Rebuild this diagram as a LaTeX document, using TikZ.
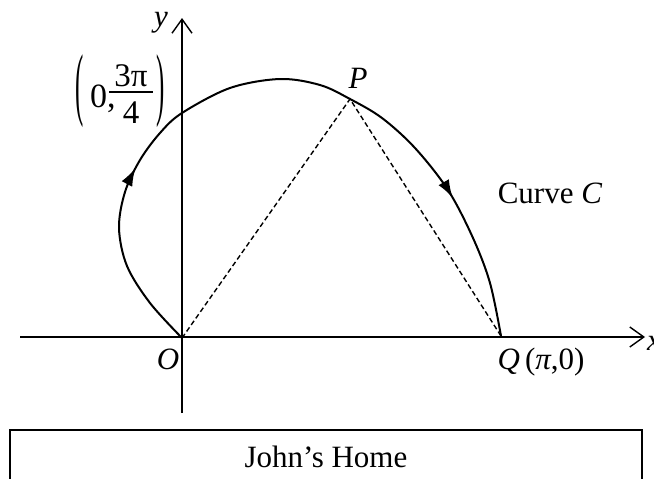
\documentclass[tikz,border=0pt]{standalone}
\usepackage{graphicx}
\usepackage{fontspec}
\setmainfont{Liberation Serif}
\usetikzlibrary{arrows.meta,decorations.markings}
\begin{document}
\begin{tikzpicture}[x=1pt,y=-1pt,
  lbl/.style={font=\fontsize{31}{36}\selectfont, inner sep=0pt},
  fraclbl/.style={font=\fontsize{33}{38}\selectfont, inner sep=0pt},
  biglbl/.style={font=\fontsize{34}{40}\selectfont, inner sep=0pt},
  axis/.style={line width=1.4pt,-{Straight Barb[length=14pt,width=20pt,line width=1.4pt]}},
  curvestyle/.style={line width=2pt},
  chord/.style={line width=1.4pt,dash pattern=on 5pt off 3pt},
  fracbar/.style={line width=1.4pt},
  homebox/.style={draw,line width=2pt,minimum width=632pt,minimum height=54pt,inner sep=0pt,font=\fontsize{31}{36}\selectfont},
  arrowmarks/.style={postaction=decorate,decoration={markings,
     mark=at position 0.262 with {\arrow{Latex[length=18pt,width=12pt]}},
     mark=at position 0.8 with {\arrow{Latex[length=18pt,width=12pt]}}}}
]
\useasboundingbox (0,0) rectangle (654,479);
% axes
\coordinate (xs) at (20,337);
\coordinate (xe) at (645,337);
\coordinate (ys) at (182,413);
\coordinate (ye) at (182,18);
\draw[axis] (xs) -- (xe);
\draw[axis] (ys) -- (ye);
% key points
\coordinate (O) at (182,338);
\coordinate (P) at (350,99);
\coordinate (Q) at (501,336);
% curve C
\draw[curvestyle,arrowmarks] plot[smooth,tension=0.55] coordinates {
 (O) (150,303) (127,266) (119,228) (125,192) (140,160) (160,133)
 (182,113) (230,88) (280,79) (320,85) (350,99) (382,118) (415,148)
 (448,190) (473,238) (490,283) (Q)};
% chords
\draw[chord] (O) -- (P) -- (Q);
% labels
\node[lbl] (ylab) at (161,23) {\itshape y};
\node[lbl] (xlab) at (654,343) {\itshape x};
% (0, 3pi/4)
\node[lbl] (lp) at (80,91) {\scalebox{0.8}[2.6]{(}};
\node[biglbl,anchor=base west] (zero) at (90,107) {0,};
\node[fraclbl,anchor=base] (num) at (131,86) {3π};
\coordinate (fl) at (109,92);
\coordinate (fr) at (153,92);
\draw[fracbar] (fl) -- (fr);
\node[fraclbl,anchor=base] (den) at (131,123) {4};
\node[lbl] (rp) at (161,91) {\scalebox{0.8}[2.6]{)}};
\node[lbl] (Plab) at (358,78) {\itshape P};
\node[lbl] (Clab) at (550,193) {Curve \textit{C}};
\node[lbl] (Olab) at (168,359) {\itshape O};
\node[lbl] (Qlab) at (541,362) {\textit{Q}\,(\textit{π},0)};
\node[homebox] (home) at (326,457) {John’s Home};
\end{tikzpicture}
\end{document}
